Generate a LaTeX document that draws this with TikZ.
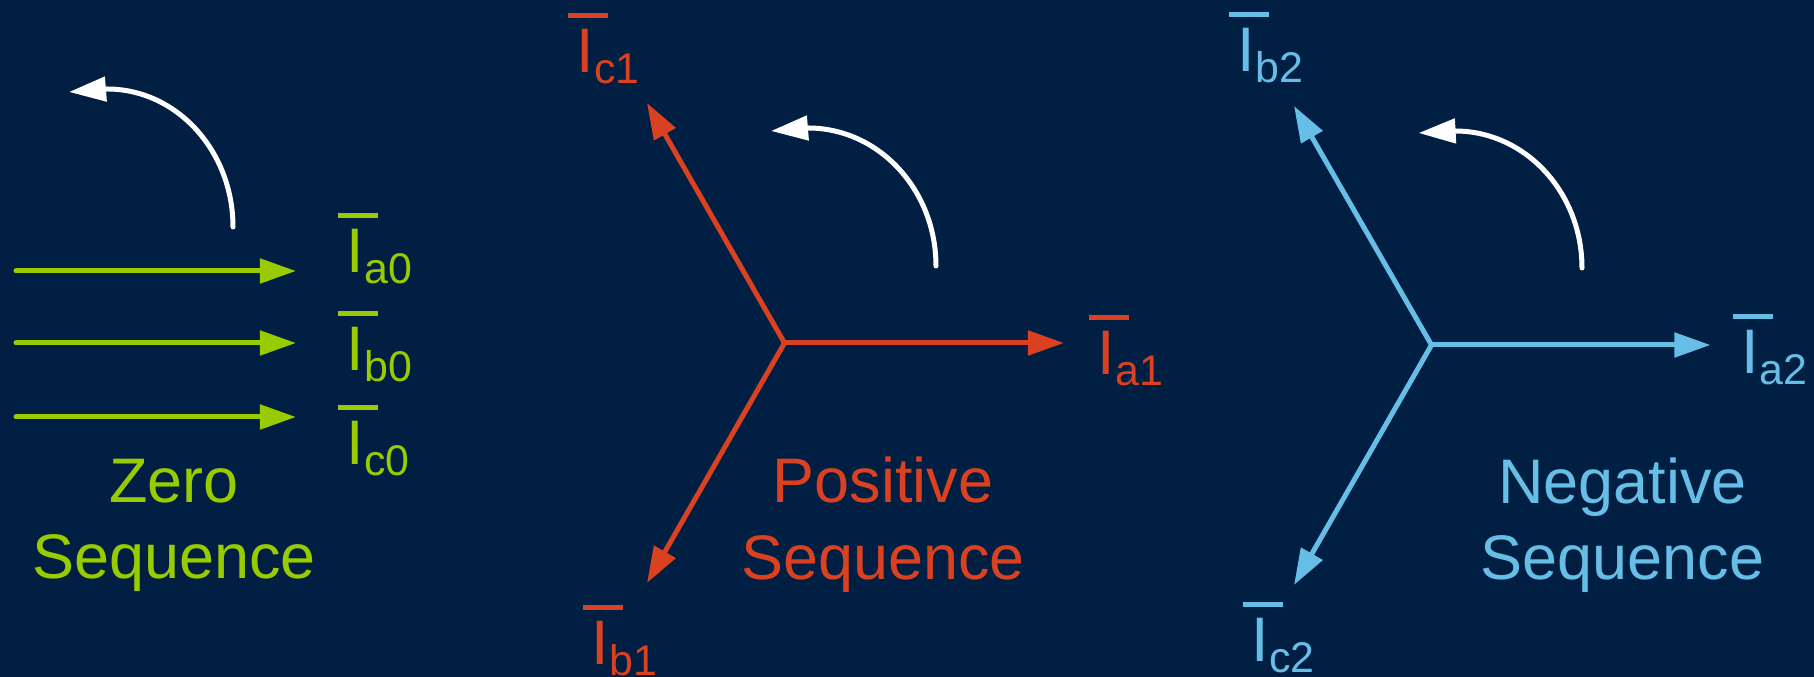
\documentclass[tikz,border=0pt]{standalone}
\usepackage{fontspec}
\setmainfont{Liberation Sans}
\usetikzlibrary{arrows.meta}
\definecolor{bgnavy}{RGB}{1,31,66}
\definecolor{zgreen}{RGB}{153,204,0}
\definecolor{pred}{RGB}{217,65,32}
\definecolor{nblue}{RGB}{102,190,230}
\newcommand\phlab[1]{\rlap{\hspace{-2.56pt}\rule[15.7pt]{11.4pt}{1.45pt}}I\raisebox{-2.85pt}{\fontsize{12.2}{13}\selectfont #1}}
\tikzset{
  vec/.style={line width=0.05cm, line cap=round, -{Triangle[length=0.36cm,width=0.24cm]}},
  rot/.style={white, line width=0.05cm, line cap=round, -{Triangle[length=0.37cm,width=0.24cm]}},
  phl/.style={anchor=base west, inner sep=0pt, font=\fontsize{17.9}{21.5}\selectfont},
  seqtext/.style={anchor=base, inner sep=0pt, font=\fontsize{17.9}{21.5}\selectfont},
}
\begin{document}
\begin{tikzpicture}[x=0.01cm,y=-0.01cm]
\fill[bgnavy] (0,0) rectangle (1814,677);
\useasboundingbox (0,0) rectangle (1814,677);

% ---------- Zero sequence ----------
\coordinate (za0s) at (16,271);  \coordinate (za0e) at (296,271);
\coordinate (zb0s) at (16,343);  \coordinate (zb0e) at (296,343);
\coordinate (zc0s) at (16,417);  \coordinate (zc0e) at (296,417);
\draw[vec, zgreen] (za0s) -- (za0e);
\draw[vec, zgreen] (zb0s) -- (zb0e);
\draw[vec, zgreen] (zc0s) -- (zc0e);
\node[phl, zgreen] (la0) at (346,273) {\phlab{a0}};
\node[phl, zgreen] (lb0) at (346,371) {\phlab{b0}};
\node[phl, zgreen] (lc0) at (346,465) {\phlab{c0}};
\coordinate (zr0) at (233,227); \coordinate (zr1) at (69,92);
\draw[rot] (zr0) arc[start angle=0, end angle=-90, x radius=126, y radius=138] -- (zr1);
\node[seqtext, zgreen] (zt1) at (174,503) {Zero};
\node[seqtext, zgreen] (zt2) at (174,579) {Sequence};

% ---------- Positive sequence ----------
\coordinate (O1) at (784.5,343);
\coordinate (pa1) at (1064,343);
\coordinate (pc1) at (647,103);
\coordinate (pb1) at (647,583);
\draw[vec, pred] (O1) -- (pa1);
\draw[vec, pred] (O1) -- (pc1);
\draw[vec, pred] (O1) -- (pb1);
\node[phl, pred] (la1) at (1097,375) {\phlab{a1}};
\node[phl, pred] (lc1) at (576,73) {\phlab{c1}};
\node[phl, pred] (lb1) at (591,665) {\phlab{b1}};
\coordinate (pr0) at (936,266); \coordinate (pr1) at (771,131);
\draw[rot] (pr0) arc[start angle=0, end angle=-90, x radius=128, y radius=138] -- (pr1);
\node[seqtext, pred] (pt1) at (883,503) {Positive};
\node[seqtext, pred] (pt2) at (883,580) {Sequence};

% ---------- Negative sequence ----------
\coordinate (O2) at (1431.5,345);
\coordinate (na2) at (1710.5,345);
\coordinate (nb2) at (1294,106);
\coordinate (nc2) at (1294,585);
\draw[vec, nblue] (O2) -- (na2);
\draw[vec, nblue] (O2) -- (nb2);
\draw[vec, nblue] (O2) -- (nc2);
\node[phl, nblue] (la2) at (1741,374) {\phlab{a2}};
\node[phl, nblue] (lb2) at (1237,72) {\phlab{b2}};
\node[phl, nblue] (lc2) at (1251,662) {\phlab{c2}};
\coordinate (nr0) at (1582,268); \coordinate (nr1) at (1418.6,133);
\draw[rot] (nr0) arc[start angle=0, end angle=-90, x radius=127, y radius=137] -- (nr1);
\node[seqtext, nblue] (nt1) at (1622.5,504) {Negative};
\node[seqtext, nblue] (nt2) at (1622.5,580) {Sequence};
\end{tikzpicture}
\end{document}
